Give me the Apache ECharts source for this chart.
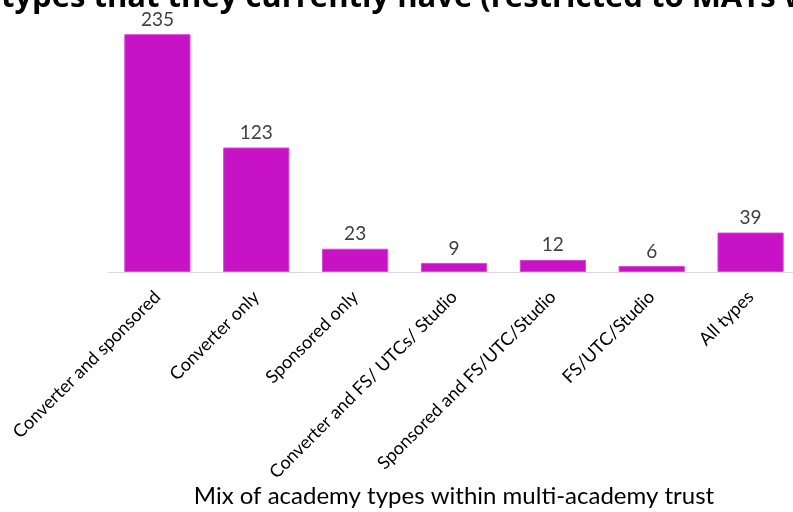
<!DOCTYPE html>
<html>
<head>
<meta charset="utf-8">
<script src="https://cdn.jsdelivr.net/npm/echarts@6/dist/echarts.min.js"></script>
<style>
  html, body { margin: 0; padding: 0; background: #fff; }
  #chart { width: 793px; height: 512px; }
</style>
</head>
<body>
<div id="chart"></div>
<script>
// values
const categories = [
  'Converter and sponsored',
  'Converter only',
  'Sponsored only',
  'Converter and FS/ UTCs/ Studio',
  'Sponsored and FS/UTC/Studio',
  'FS/UTC/Studio',
  'All types'
];
const trustCounts = [235, 123, 23, 9, 12, 6, 39];

const titleText = 'types that they currently have (restricted to MATs with';
const axisTitle = 'Mix of academy types within multi-academy trust';

const chart = echarts.init(document.getElementById('chart'), null, { renderer: 'canvas' });

chart.setOption({
  animation: false,
  textStyle: { fontFamily: 'Lato, "Open Sans", sans-serif' },
  title: {
    text: titleText,
    left: -4,
    top: -22,
    textStyle: { fontSize: 31, fontWeight: 'bold', color: '#000', fontFamily: '"Open Sans", sans-serif' }
  },
  grid: { left: 108, top: 19, width: 692, bottom: 240, outerBoundsMode: 'none', containLabel: false },
  xAxis: {
    type: 'category',
    data: categories,
    name: axisTitle,
    nameLocation: 'middle',
    nameGap: 212,
    nameTextStyle: { fontSize: 24, color: '#000' },
    axisLine: { lineStyle: { color: '#d9d9d9', width: 1 } },
    axisTick: { show: false },
    axisLabel: {
      interval: 0,
      rotate: 45,
      margin: 22,
      fontSize: 18,
      color: '#000'
    }
  },
  yAxis: {
    type: 'value',
    min: 0,
    max: 250,
    show: false,
    splitLine: { show: false }
  },
  series: [{
    type: 'bar',
    data: trustCounts,
    barWidth: '67%',
    itemStyle: { color: '#C713C5', borderColor: '#D84BD6', borderWidth: 1 },
    label: {
      show: true,
      position: 'top',
      distance: 5,
      fontSize: 19,
      color: '#404040'
    }
  }]
});
</script>
</body>
</html>
